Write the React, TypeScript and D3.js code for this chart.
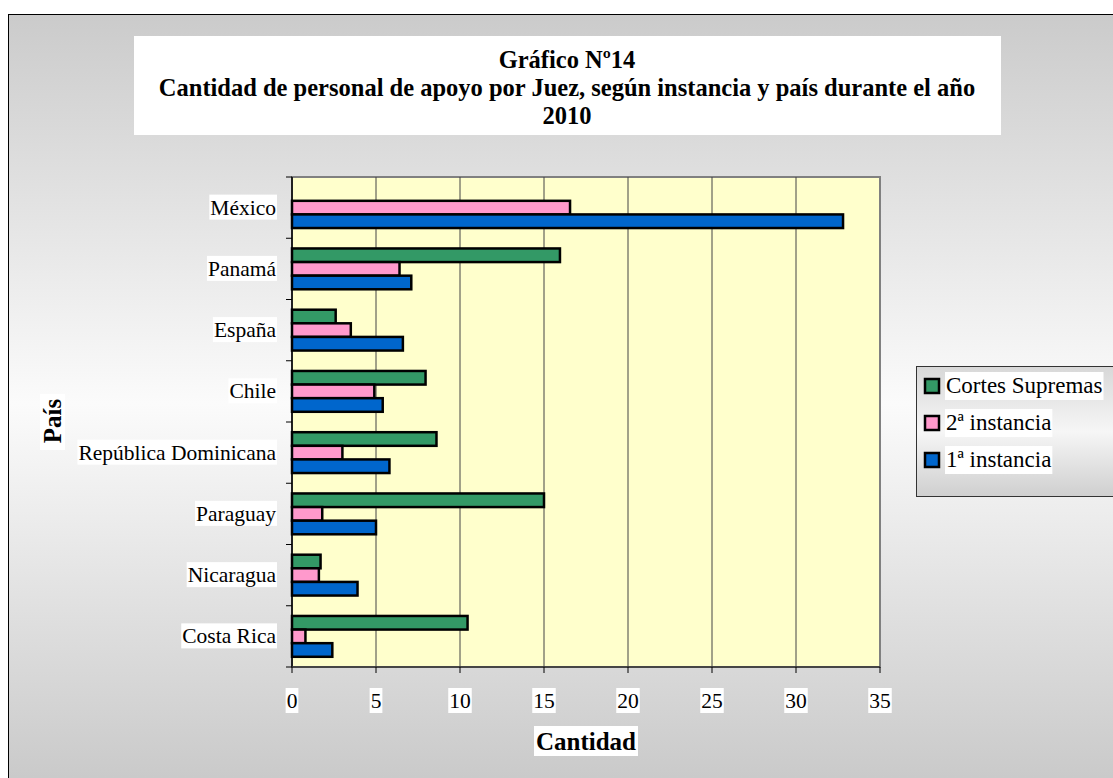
import React from "react";
import * as d3 from "d3";

const width = 1113;
const height = 778;

const countries = [
  "México",
  "Panamá",
  "España",
  "Chile",
  "República Dominicana",
  "Paraguay",
  "Nicaragua",
  "Costa Rica",
];
const series = ["Cortes Supremas", "2ª instancia", "1ª instancia"];
const cortesSupremas = [0, 15.95, 2.6, 7.95, 8.6, 15.0, 1.7, 10.45];
const segunda = [16.55, 6.4, 3.5, 4.9, 3.0, 1.8, 1.6, 0.8];
const primera = [32.8, 7.1, 6.6, 5.4, 5.8, 5.0, 3.9, 2.4];
const xTicks = [0, 5, 10, 15, 20, 25, 30, 35];
const colors = ["#339966", "#FF99CC", "#0066CC"];

const font = "'Liberation Serif', 'Times New Roman', serif";

const plot = { left: 292, right: 880, top: 177, bottom: 667 };

// measure text so labels get a white box behind them
const canvas = document.createElement("canvas");
const ctx = canvas.getContext("2d");
function textWidth(s: string, size: number, bold = false) {
  if (!ctx) return s.length * size * 0.5;
  ctx.font = `${bold ? "bold " : ""}${size}px 'Liberation Serif'`;
  return ctx.measureText(s).width;
}

const App = () => {
  const x = d3.scaleLinear().domain([0, 35]).range([plot.left, plot.right]);
  const y = d3
    .scaleBand()
    .domain(countries)
    .range([plot.top, plot.bottom])
    .paddingInner(0)
    .paddingOuter(0);
  const bandH = y.bandwidth();
  const groupH = bandH / 1.5;
  const barH = groupH / 3;
  const values = [cortesSupremas, segunda, primera];

  const catSize = 21.5;
  const tickSize = 21.5;
  const legSize = 23;

  return (
    <svg
      width={width}
      height={height}
      style={{ position: "absolute", left: 0, top: 0 }}
    >
      <defs>
        <linearGradient id="bg" x1="0" y1="0" x2="0" y2="1">
          <stop offset="0%" stopColor="#cbcbcb" />
          <stop offset="50%" stopColor="#fbfbfb" />
          <stop offset="100%" stopColor="#c8c8c8" />
        </linearGradient>
        <linearGradient id="legbg" x1="0" y1="0" x2="0" y2="1">
          <stop offset="0%" stopColor="#d8d8d8" />
          <stop offset="50%" stopColor="#f6f6f6" />
          <stop offset="100%" stopColor="#cfcfcf" />
        </linearGradient>
      </defs>
      <rect x={0} y={0} width={width} height={height} fill="#fff" />
      <rect
        x={8.5}
        y={14.5}
        width={width + 10}
        height={height}
        fill="url(#bg)"
        stroke="#000"
        strokeWidth={1}
      />

      {/* title */}
      <rect x={134} y={36} width={867} height={99} fill="#fff" />
      <g
        fontFamily={font}
        fontWeight="bold"
        fontSize={24.5}
        textAnchor="middle"
        fill="#000"
      >
        <text x={567} y={68}>Gráfico Nº14</text>
        <text x={567} y={96}>
          Cantidad de personal de apoyo por Juez, según instancia y país durante el año
        </text>
        <text x={567} y={124}>2010</text>
      </g>

      {/* plot area */}
      <rect
        x={plot.left}
        y={plot.top}
        width={plot.right - plot.left}
        height={plot.bottom - plot.top}
        fill="#FFFFCC"
        stroke="#808080"
        strokeWidth={2}
      />
      {xTicks.slice(1, -1).map((t) => (
        <line
          key={t}
          x1={x(t)}
          x2={x(t)}
          y1={plot.top}
          y2={plot.bottom}
          stroke="#444"
          strokeWidth={1}
        />
      ))}

      {/* bars */}
      {countries.map((c, i) => (
        <g key={c}>
          {values.map((vals, s) =>
            vals[i] > 0 ? (
              <rect
                key={s}
                x={x(0)}
                y={(y(c) as number) + (bandH - groupH) / 2 + s * barH}
                width={x(vals[i]) - x(0)}
                height={barH}
                fill={colors[s]}
                stroke="#000"
                strokeWidth={2.5}
              />
            ) : null
          )}
        </g>
      ))}

      {/* axes */}
      <line
        x1={plot.left}
        x2={plot.left}
        y1={plot.top}
        y2={plot.bottom}
        stroke="#000"
        strokeWidth={1.5}
      />
      <line
        x1={plot.left}
        x2={plot.right}
        y1={plot.bottom}
        y2={plot.bottom}
        stroke="#333"
        strokeWidth={1.5}
      />
      {countries.concat(["end"]).map((c, i) => (
        <line
          key={c}
          x1={plot.left - 6}
          x2={plot.left}
          y1={plot.top + i * bandH}
          y2={plot.top + i * bandH}
          stroke="#000"
        />
      ))}
      {xTicks.map((t) => (
        <line
          key={t}
          x1={x(t)}
          x2={x(t)}
          y1={plot.bottom}
          y2={plot.bottom + 6}
          stroke="#000"
        />
      ))}

      {/* category labels */}
      <g fontFamily={font} fontSize={catSize} fill="#000">
        {countries.map((c) => {
          const cy = (y(c) as number) + bandH / 2;
          const w = textWidth(c, catSize);
          return (
            <g key={c}>
              <rect x={276 - w - 1} y={cy - 13} width={w + 2} height={25} fill="#fff" />
              <text x={276} y={cy + 7} textAnchor="end" fill="#000">
                {c}
              </text>
            </g>
          );
        })}
      </g>

      {/* x tick labels */}
      <g fontFamily={font} fontSize={tickSize} textAnchor="middle">
        {xTicks.map((t) => {
          const w = textWidth(String(t), tickSize);
          return (
            <g key={t}>
              <rect x={x(t) - w / 2 - 1} y={688} width={w + 2} height={25} fill="#fff" />
              <text x={x(t)} y={708}>
                {t}
              </text>
            </g>
          );
        })}
      </g>

      {/* axis titles */}
      <rect x={586 - 52} y={726} width={104} height={30} fill="#fff" />
      <text
        x={586}
        y={750}
        fontFamily={font}
        fontWeight="bold"
        fontSize={25}
        textAnchor="middle"
      >
        Cantidad
      </text>
      <rect x={40} y={394} width={25} height={56} fill="#fff" />
      <text
        transform="translate(61,421) rotate(-90)"
        fontFamily={font}
        fontWeight="bold"
        fontSize={25}
        textAnchor="middle"
      >
        País
      </text>

      {/* legend */}
      <rect
        x={916.5}
        y={366.5}
        width={220}
        height={130}
        fill="url(#legbg)"
        stroke="#333"
        strokeWidth={1}
      />
      {series.map((s, i) => {
        const w = textWidth(s, legSize);
        return (
          <g key={s} transform={`translate(0, ${393 + i * 37})`}>
            <rect
              x={925}
              y={-14}
              width={14}
              height={14}
              fill={colors[i]}
              stroke="#000"
              strokeWidth={2.5}
            />
            <rect x={945} y={-21} width={w + 2} height={28} fill="#fff" />
            <text x={946} y={0} fontFamily={font} fontSize={legSize} fill="#000">
              {s}
            </text>
          </g>
        );
      })}
    </svg>
  );
};

export default App;
